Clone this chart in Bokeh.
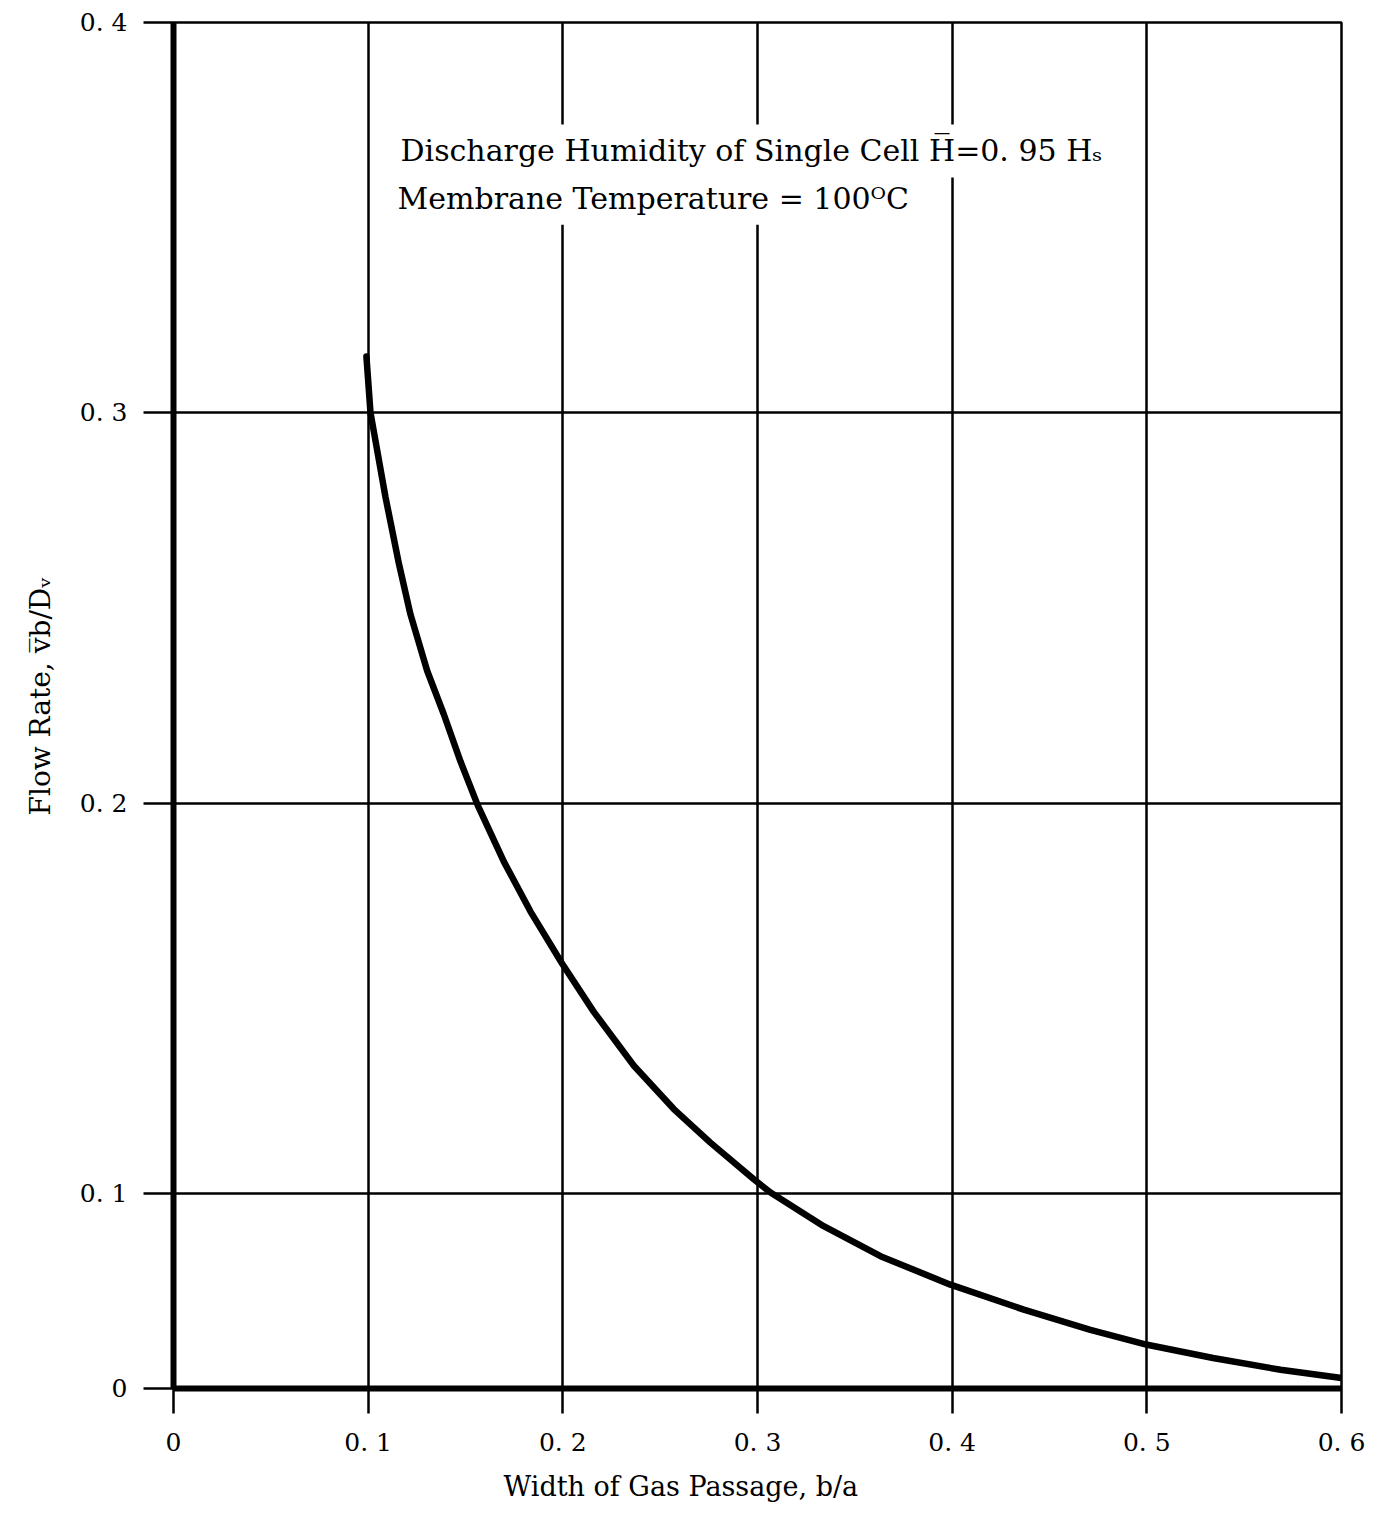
from bokeh.plotting import figure
from bokeh.models import Range1d, FixedTicker, Label, Title
from bokeh.embed import file_html
from bokeh.resources import INLINE

# ---- data ----
x_vals = [0.0991, 0.1012, 0.1089, 0.1158, 0.1217, 0.1303, 0.1389, 0.1474, 0.1563,
          0.1697, 0.1834, 0.1996, 0.2159, 0.2365, 0.2570, 0.2758, 0.2981,
          0.3067, 0.3340, 0.3632, 0.3991, 0.4368, 0.4710, 0.5002, 0.5340, 0.5687,
          0.6000]
y_vals = [0.3144, 0.3000, 0.2784, 0.2613, 0.2484, 0.2339, 0.2227, 0.2107, 0.1994,
          0.1850, 0.1722, 0.1589, 0.1465, 0.1327, 0.1216, 0.1130, 0.1036,
          0.1002, 0.0916, 0.0839, 0.0766, 0.0702, 0.0650, 0.0612, 0.0578, 0.0548,
          0.0527]

x_ticks = [0.0, 0.1, 0.2, 0.3, 0.4, 0.5, 0.6]
x_tick_labels = ["0", "0. 1", "0. 2", "0. 3", "0. 4", "0. 5", "0. 6"]
y_bottom = 0.05
y_ticks = [0.05, 0.1, 0.2, 0.3, 0.4]
y_tick_labels = ["0", "0. 1", "0. 2", "0. 3", "0. 4"]

x_title = "Width of Gas Passage, b/a"
y_title = "Flow Rate, v\u0305b/D\u1d65"
note_1 = "Discharge Humidity of Single Cell H\u0305=0. 95 H\u209b"
note_2 = "Membrane Temperature = 100\u1d3cC"

FONT = "DejaVu Serif"

p = figure(width=1372, height=1510, output_backend="svg", toolbar_location=None,
           x_range=Range1d(0, 0.6), y_range=Range1d(y_bottom, 0.4),
           min_border_left=173, min_border_right=31, min_border_top=22, min_border_bottom=122)
p.background_fill_color = "white"
p.border_fill_color = "white"
p.outline_line_color = "black"
p.outline_line_width = 2.5

# axes
p.xaxis.ticker = FixedTicker(ticks=x_ticks)
p.xaxis.major_label_overrides = {t: l for t, l in zip(x_ticks, x_tick_labels)}
p.yaxis.ticker = FixedTicker(ticks=y_ticks)
p.yaxis.major_label_overrides = {t: l for t, l in zip(y_ticks, y_tick_labels)}
for ax in (p.xaxis[0], p.yaxis[0]):
    ax.axis_line_color = "black"
    ax.axis_line_width = 6
    ax.major_tick_line_color = "black"
    ax.major_tick_line_width = 2.5
    ax.major_tick_in = 0
    ax.minor_tick_line_color = None
    ax.major_label_text_font = FONT
    ax.major_label_text_font_size = "25px"
    ax.major_label_text_color = "black"
p.xaxis.major_label_standoff = 14
p.yaxis.major_label_standoff = 16
p.xaxis.major_tick_out = 25
p.yaxis.major_tick_out = 30

# grid
p.xgrid.ticker = FixedTicker(ticks=x_ticks[1:])
p.ygrid.ticker = FixedTicker(ticks=y_ticks[1:])
p.grid.grid_line_color = "black"
p.grid.grid_line_width = 2.5
p.grid.grid_line_alpha = 1.0

# curve
p.line(x_vals, y_vals, line_color="black", line_width=6.5, line_join="round", line_cap="round")

# axis titles
p.add_layout(Title(text=x_title, align="left", offset=330, standoff=18, text_font=FONT,
                   text_font_size="27px", text_font_style="normal", text_color="black"), "below")
p.add_layout(Title(text=y_title, align="left", offset=573, standoff=40, text_font=FONT,
                   text_font_size="28px", text_font_style="normal", text_color="black"), "left")

# annotations
for txt, xv, yv in [(note_1, 0.1120, 0.3671), (note_2, 0.1105, 0.3550)]:
    p.add_layout(Label(x=xv, y=yv, text=txt, text_font=FONT, text_font_size="30px",
                       text_align="left", text_baseline="alphabetic", text_color="black",
                       background_fill_color="white", padding=9))

open("out.html", "w").write(file_html(p, INLINE))
